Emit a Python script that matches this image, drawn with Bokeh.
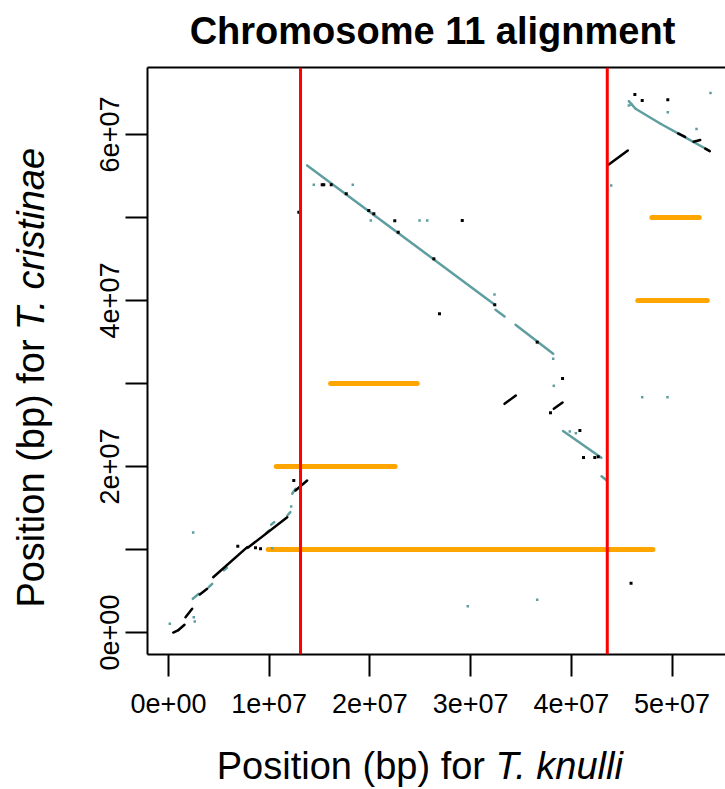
import math
from bokeh.plotting import figure
from bokeh.layouts import column, row
from bokeh.models import Range1d, FixedTicker, CustomJSTickFormatter, LinearAxis, Span
from bokeh.core.properties import value
from bokeh.embed import file_html
from bokeh.resources import INLINE

# ---------------- data (Mb) ----------------
# black alignment blocks: start/end on T. knulli (x) and T. cristinae (y)
blk_x0 = [0.47, 0.99, 1.69, 3.11, 4.44, 7.87, 12.61, 33.37, 38.26, 43.72, 50.60, 52.14, 53.30]
blk_y0 = [0.00, 0.30, 1.84, 4.58, 6.66, 10.20, 17.11, 27.55, 26.95, 56.39, 60.12, 59.12, 58.30]
blk_x1 = [0.99, 1.59, 2.35, 3.84, 7.82, 11.79, 13.77, 34.49, 39.13, 45.61, 51.30, 52.80, 53.75]
blk_y1 = [0.30, 0.93, 2.86, 5.27, 10.28, 13.89, 18.31, 28.55, 27.71, 58.07, 59.70, 59.33, 57.99]

# teal alignment blocks
tea_x0 = [13.77, 32.47, 34.46, 39.18, 43.00, 45.71, 46.38, 48.86, 50.68, 2.41, 4.00, 12.28, 5.50, 9.70, 10.20, 11.80]
tea_y0 = [56.27, 38.88, 37.07, 24.28, 18.83, 64.01, 63.10, 61.29, 60.08, 4.06, 5.46, 16.71, 7.50, 12.00, 13.00, 14.10]
tea_x1 = [32.37, 33.37, 38.20, 42.98, 43.53, 46.38, 48.86, 50.68, 53.66, 3.01, 4.34, 12.61, 5.80, 10.00, 10.50, 12.10]
tea_y1 = [39.52, 38.07, 33.58, 21.06, 18.31, 63.10, 61.29, 60.08, 58.07, 4.66, 5.87, 17.31, 7.80, 12.30, 13.30, 14.50]

# very short blocks (dots)
tdot_x = [0.13, 2.51, 2.61, 2.45, 12.18, 14.43, 18.30, 20.09, 24.93, 25.69, 32.37, 38.20, 38.26,
          39.85, 40.45, 43.96, 45.71, 45.95, 49.58, 52.43, 53.82, 47.04, 49.55, 36.61, 29.72, 10.30]
tdot_y = [1.05, 1.84, 1.33, 12.05, 15.18, 53.94, 53.94, 49.64, 49.64, 49.64, 40.72, 32.98, 29.72,
          24.22, 24.01, 53.86, 63.49, 63.61, 62.69, 60.66, 65.00, 28.35, 28.35, 3.94, 3.17, 10.16]
bdot_x = [6.88, 8.64, 9.14, 12.44, 12.94, 15.26, 15.42, 16.16, 17.65, 19.89, 20.39, 22.81, 26.35,
          32.40, 36.61, 22.47, 29.17, 26.91, 39.13, 37.93, 40.85, 41.21, 42.33, 42.67, 46.31, 47.04,
          49.58, 45.93]
bdot_y = [10.40, 10.20, 10.08, 18.31, 50.64, 53.94, 53.94, 53.94, 52.86, 50.84, 50.45, 48.23, 45.02,
          39.48, 34.98, 49.60, 49.64, 38.40, 30.60, 26.47, 24.34, 21.08, 21.08, 21.17, 64.82, 64.10,
          64.18, 5.94]

# breakpoints (red) and orange marks
break_x = [13.11, 43.57]
org_x0 = [9.9, 10.7, 16.1, 46.6, 48.0]
org_x1 = [48.1, 22.5, 24.7, 53.5, 52.7]
org_y = [10.0, 20.0, 30.0, 40.0, 50.0]

x_ticks = [0, 1e7, 2e7, 3e7, 4e7, 5e7]
x_tick_labels = ["0e+00", "1e+07", "2e+07", "3e+07", "4e+07", "5e+07"]
y_ticks = [0, 1e7, 2e7, 3e7, 4e7, 5e7, 6e7]
y_tick_labels = ["0e+00", "", "2e+07", "", "4e+07", "", "6e+07"]

title_text = "Chromosome 11 alignment"
xlab_plain, xlab_ital = "Position (bp) for", "T. knulli"
ylab_plain, ylab_ital = "Position (bp) for", "T. cristinae"

MB = 1e6
TEAL = "#5F9EA0"
FONT = "Liberation Sans"

# ---------------- layout (page pixels) ----------------
W, H = 725, 789
TITLE_H = 56
XLAB_H = 54
YLAB_W = 60
MID_H = H - TITLE_H - XLAB_H            # 679
FL, FT, FB = 147, 67, 654               # frame edges on the page
XR = (-2.085e6, 5.531e7)
YR = (-2.65e6, 6.807e7)
FIX = 0.355                              # svg text baseline correction (em)
TITLE_PX, LAB_PX, TICK_PX = 38, 38, 27


def text_fig(w, h):
    f = figure(width=w, height=h, x_range=Range1d(0, w), y_range=Range1d(0, h),
               output_backend="svg", toolbar_location=None, x_axis_location=None,
               y_axis_location=None, min_border=0)
    f.outline_line_color = None
    f.grid.visible = False
    f.background_fill_color = "white"
    f.border_fill_color = "white"
    return f


# main plot
p = figure(width=W - YLAB_W, height=MID_H, x_range=Range1d(*XR), y_range=Range1d(*YR),
           output_backend="svg", toolbar_location=None, x_axis_location=None,
           y_axis_location=None, min_border_left=FL - YLAB_W, min_border_right=0,
           min_border_top=FT - TITLE_H, min_border_bottom=(H - XLAB_H) - FB)
p.outline_line_color = None
p.grid.visible = False
p.background_fill_color = "white"
p.border_fill_color = "white"

fmt_code = """
for (let i = 0; i < tvals.length; i++) { if (Math.abs(tvals[i] - tick) < 1) return tlabels[i]; }
return "";
"""


def style_axis(ax):
    ax.axis_line_width = 2
    ax.axis_line_color = "black"
    ax.major_tick_line_width = 2
    ax.major_tick_in = 0
    ax.major_tick_out = 22
    ax.minor_tick_line_color = None
    ax.major_label_text_font = FONT
    ax.major_label_text_font_size = f"{TICK_PX}px"
    ax.major_label_text_color = "black"


xax = LinearAxis(ticker=FixedTicker(ticks=x_ticks),
                 formatter=CustomJSTickFormatter(args=dict(tvals=x_ticks, tlabels=x_tick_labels), code=fmt_code))
style_axis(xax)
xax.major_label_standoff = 17
p.add_layout(xax, "below")

yax = LinearAxis(ticker=FixedTicker(ticks=y_ticks),
                 formatter=CustomJSTickFormatter(args=dict(tvals=y_ticks, tlabels=y_tick_labels), code=fmt_code))
style_axis(yax)
yax.major_label_orientation = "vertical"
yax.major_label_standoff = 6
p.add_layout(yax, "left")

top = LinearAxis(ticker=FixedTicker(ticks=[]), major_label_text_font_size="0px")
top.axis_line_width = 2
top.major_tick_out = 0
top.major_tick_in = 0
top.minor_tick_line_color = None
top.major_label_standoff = 0
p.add_layout(top, "above")

for x in break_x:
    p.add_layout(Span(location=x * MB, dimension="height", line_color="#FF0000", line_width=3))

p.segment(x0=[v * MB for v in org_x0], x1=[v * MB for v in org_x1],
          y0=[v * MB for v in org_y], y1=[v * MB for v in org_y],
          line_color="#FFA500", line_width=5, line_cap="round")
p.segment(x0=[v * MB for v in tea_x0], y0=[v * MB for v in tea_y0],
          x1=[v * MB for v in tea_x1], y1=[v * MB for v in tea_y1],
          line_color=TEAL, line_width=2.5, line_cap="round")
p.segment(x0=[v * MB for v in blk_x0], y0=[v * MB for v in blk_y0],
          x1=[v * MB for v in blk_x1], y1=[v * MB for v in blk_y1],
          line_color="black", line_width=2.5, line_cap="round")
p.scatter(x=[v * MB for v in tdot_x], y=[v * MB for v in tdot_y], marker="square",
          size=2.5, fill_color=TEAL, line_color=None)
p.scatter(x=[v * MB for v in bdot_x], y=[v * MB for v in bdot_y], marker="square",
          size=3, fill_color="black", line_color=None)

# title
tf = text_fig(W, TITLE_H)
tf.text(x=[432], y=[TITLE_H - 44 + FIX * TITLE_PX], text=[title_text], text_align="center",
        text_baseline="alphabetic", text_font=value(FONT), text_font_size=value(f"{TITLE_PX}px"),
        text_font_style="bold", text_color="black")

# x label (plain + italic)
xf = text_fig(W, XLAB_H)
xj, xb, gap = 495, 779, 10.5
xf.text(x=[xj - gap], y=[H - xb + FIX * LAB_PX], text=[xlab_plain], text_align="right",
        text_baseline="alphabetic", text_font=value(FONT), text_font_size=value(f"{LAB_PX}px"),
        text_color="black")
xf.text(x=[xj], y=[H - xb + FIX * LAB_PX], text=[xlab_ital], text_align="left",
        text_baseline="alphabetic", text_font=value(FONT), text_font_size=value(f"{LAB_PX}px"),
        text_font_style="italic", text_color="black")

# y label (rotated, plain + italic)
yf = text_fig(YLAB_W, MID_H)
yj, yb = 360, 44
yfy = (H - XLAB_H) - yj
yf.text(x=[yb - FIX * LAB_PX], y=[yfy - gap], text=[ylab_plain], text_align="right", angle=math.pi / 2,
        text_baseline="alphabetic", text_font=value(FONT), text_font_size=value(f"{LAB_PX}px"),
        text_color="black")
yf.text(x=[yb - FIX * LAB_PX], y=[yfy], text=[ylab_ital], text_align="left", angle=math.pi / 2,
        text_baseline="alphabetic", text_font=value(FONT), text_font_size=value(f"{LAB_PX}px"),
        text_font_style="italic", text_color="black")

layout = column(tf, row(yf, p), xf)
open("out.html", "w").write(file_html(layout, INLINE))
